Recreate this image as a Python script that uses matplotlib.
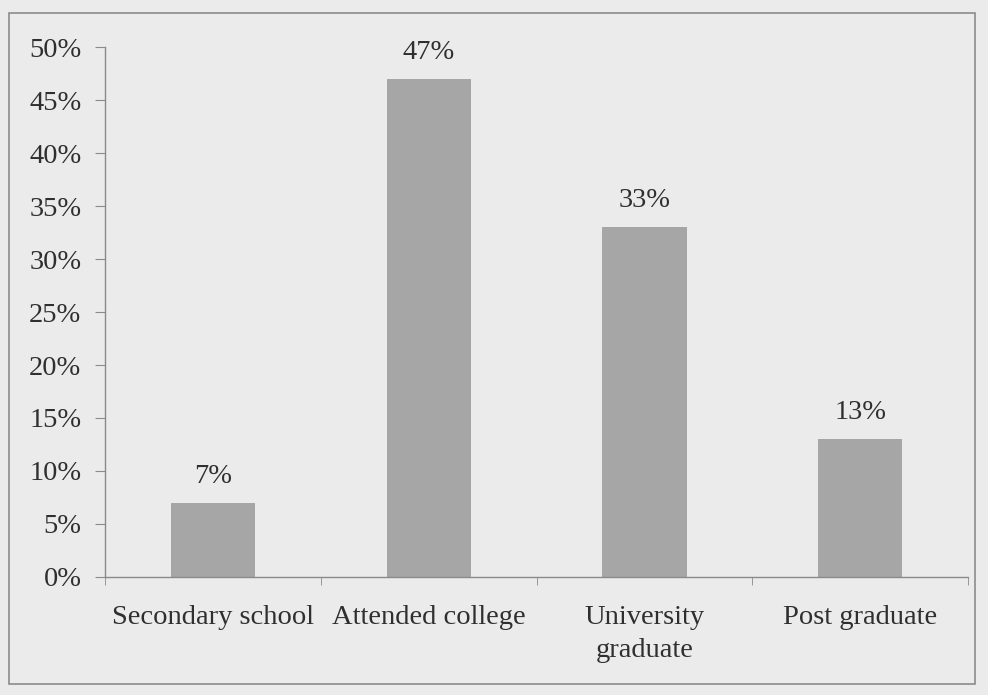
import matplotlib
matplotlib.use("Agg")
import matplotlib.pyplot as plt
from matplotlib.patches import Rectangle
from matplotlib.ticker import PercentFormatter

categories = ["Secondary school", "Attended college", "University\ngraduate", "Post graduate"]
values = [0.07, 0.47, 0.33, 0.13]
value_labels = ["7%", "47%", "33%", "13%"]

plt.rcParams['font.family'] = ['Liberation Serif', 'DejaVu Serif']
bg = "#ebebeb"
txt = "#2f2f2f"
fig = plt.figure(figsize=(9.88, 6.95), dpi=100, facecolor=bg)
ax = fig.add_axes([0.1063, 0.170, 0.8737, 0.762])
ax.set_facecolor(bg)

x = list(range(len(categories)))
ax.bar(x, values, width=0.39, color="#a6a6a6", zorder=2)
for xi, v, lab in zip(x, values, value_labels):
    ax.annotate(lab, (xi, v), xytext=(0, 10), textcoords="offset points",
                ha="center", va="bottom", fontsize=20.5, color=txt)

ax.set_xlim(-0.5, 3.5)
ax.set_ylim(0, 0.5)
ax.set_yticks([i * 0.05 for i in range(11)])
ax.yaxis.set_major_formatter(PercentFormatter(1.0, decimals=0))
ax.set_xticks(x)
ax.set_xticklabels(categories, fontsize=20.5, color=txt, linespacing=1.45)
ax.set_xticks([-0.5, 0.5, 1.5, 2.5, 3.5], minor=True)
ax.tick_params(axis="x", which="major", length=0, pad=20)
ax.tick_params(axis="x", which="minor", length=6, color="#8a8a8a", direction="out")
ax.tick_params(axis="y", length=7, color="#8a8a8a", labelsize=20.5, labelcolor=txt, pad=10)

for s in ["top", "right"]:
    ax.spines[s].set_visible(False)
for s in ["left", "bottom"]:
    ax.spines[s].set_color("#8a8a8a")
    ax.spines[s].set_linewidth(1.0)

fig.patches.append(Rectangle((0.009, 0.016), 0.978, 0.965, transform=fig.transFigure,
                             fill=False, edgecolor="#8c8c8c", linewidth=1.2))

fig.savefig("out.png", dpi=100, facecolor=bg)
